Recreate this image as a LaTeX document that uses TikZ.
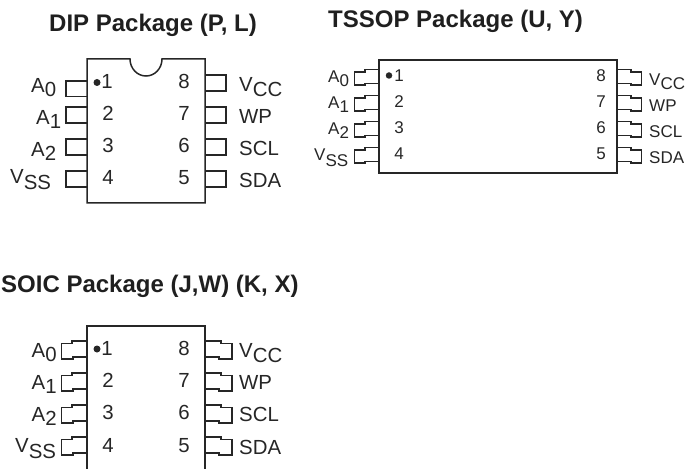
\documentclass[tikz,border=0pt]{standalone}
\usepackage{fontspec}
\setmainfont{Liberation Sans}
\tikzset{
  x=1bp,y=-1bp,
  titlelabel/.style={inner sep=0pt,anchor=base west,font=\fontsize{24bp}{26bp}\selectfont\bfseries,text=black!88},
  biglabel/.style={inner sep=0pt,anchor=base west,font=\fontsize{20.4bp}{22bp}\selectfont,text=black!85},
  smalllabel/.style={inner sep=0pt,anchor=base west,font=\fontsize{17bp}{19bp}\selectfont,text=black!85},
  bignum/.style={inner sep=0pt,anchor=base,font=\fontsize{20.4bp}{22bp}\selectfont,text=black!85},
  smallnum/.style={inner sep=0pt,anchor=base,font=\fontsize{17bp}{19bp}\selectfont,text=black!85},
  outline/.style={draw=black!85,line width=1.5bp},
  pindot/.style={circle,fill=black!85,inner sep=0pt,minimum size=7bp}
}
\newcommand{\subsc}[3]{#1\raisebox{-#3bp}{#2}}
\begin{document}
\begin{tikzpicture}
\useasboundingbox (0,0) rectangle (685,469);
% titles
\node[titlelabel] (t1) at (49,32) {DIP Package (P, L)};
\node[titlelabel] (t2) at (328,28) {TSSOP Package (U, Y)};
\node[titlelabel] (t3) at (1,293) {SOIC Package (J,W) (K, X)};
% DIP
\draw[outline] (87,59) -- (130,59) arc[start angle=180,end angle=360,x radius=16,y radius=-17] -- (205,59) -- (205,203) -- (87,203) -- cycle;
\draw[outline,line width=1.9bp] (87,81) -| (66,96.5) -- (87,96.5);
\foreach \y in {107,139,171} \draw[outline] (87,\y) -| (66,\y+16) -- (87,\y+16);
\foreach \y in {75,107,139,171} \draw[outline] (205,\y) -| (226,\y+16) -- (205,\y+16);
\node[pindot] (d1) at (97,82.5) {};
\foreach \n/\x/\y in {1/107/89,2/108/121,3/108/153,4/108/185,8/184/89,7/184/121,6/184/153,5/184/185} \node[bignum] (dn\n) at (\x,\y) {\n};
\node[biglabel] (da0) at (31,93) {\subsc{A}{0}{4}};
\node[biglabel] (da1) at (36,125) {\subsc{A}{1}{4}};
\node[biglabel] (da2) at (31,157) {\subsc{A}{2}{4}};
\node[biglabel] (dvss) at (10,183.5) {\subsc{V}{SS}{6}};
\node[biglabel] (dvcc) at (239,91.5) {\subsc{V}{CC}{5}};
\node[biglabel] (dwp) at (239,123.5) {WP};
\node[biglabel] (dscl) at (239,155.5) {SCL};
\node[biglabel] (dsda) at (239,187.5) {SDA};
% TSSOP
\draw[outline] (379,60) rectangle (617,173);
\foreach \y in {69.5,95.5,121.5,147.5} {
  \draw[outline] (379,\y) -- (365,\y) -- (365,\y+2.5) -- (354.5,\y+2.5) -- (354.5,\y+15.5) -- (365,\y+15.5) -- (365,\y+14) -- (379,\y+14);
  \draw[outline] (617,\y) -- (631,\y) -- (631,\y+2.5) -- (641.5,\y+2.5) -- (641.5,\y+15.5) -- (631,\y+15.5) -- (631,\y+14) -- (617,\y+14);
}
\node[pindot,minimum size=6.5bp] (d2) at (389,75.5) {};
\foreach \n/\x/\y in {1/399/81.5,2/399/107.5,3/399/133.5,4/399/159.5,8/601/81.5,7/601/107.5,6/601/133.5,5/601/159.5} \node[smallnum] (tn\n) at (\x,\y) {\n};
\node[smalllabel] (ta0) at (328,82.5) {\subsc{A}{0}{4}};
\node[smalllabel] (ta1) at (328,108.5) {\subsc{A}{1}{4}};
\node[smalllabel] (ta2) at (328,134.5) {\subsc{A}{2}{4}};
\node[smalllabel] (tvss) at (314,160.5) {\subsc{V}{SS}{6}};
\node[smalllabel] (tvcc) at (649,86) {\subsc{V}{CC}{4}};
\node[smalllabel] (twp) at (649,112) {WP};
\node[smalllabel] (tscl) at (649,138) {SCL};
\node[smalllabel] (tsda) at (649,163.5) {SDA};
% SOIC
\draw[outline] (87,469) -- (87,326) -- (205,326) -- (205,469);
\foreach \y in {341,373,405,437} {
  \draw[outline] (87,\y) -- (72,\y) -- (72,\y+2.5) -- (61.5,\y+2.5) -- (61.5,\y+18) -- (73,\y+18) -- (73,\y+16) -- (87,\y+16);
  \draw[outline] (205,\y) -- (221,\y) -- (221,\y+2.5) -- (232,\y+2.5) -- (232,\y+18) -- (219,\y+18) -- (219,\y+16) -- (205,\y+16);
}
\node[pindot] (d3) at (97,349) {};
\foreach \n/\x/\y in {1/107/355,2/108/387,3/108/419,4/108/452,8/184/355,7/184/387,6/184/419,5/184/452} \node[bignum] (sn\n) at (\x,\y) {\n};
\node[biglabel] (sa0) at (31.5,357.5) {\subsc{A}{0}{4}};
\node[biglabel] (sa1) at (31.5,389.5) {\subsc{A}{1}{4}};
\node[biglabel] (sa2) at (31.5,421.5) {\subsc{A}{2}{4}};
\node[biglabel] (svss) at (15,452.5) {\subsc{V}{SS}{6}};
\node[biglabel] (svcc) at (239,357) {\subsc{V}{CC}{5}};
\node[biglabel] (swp) at (239,389) {WP};
\node[biglabel] (sscl) at (239,421.5) {SCL};
\node[biglabel] (ssda) at (239,454) {SDA};
\end{tikzpicture}
\end{document}
